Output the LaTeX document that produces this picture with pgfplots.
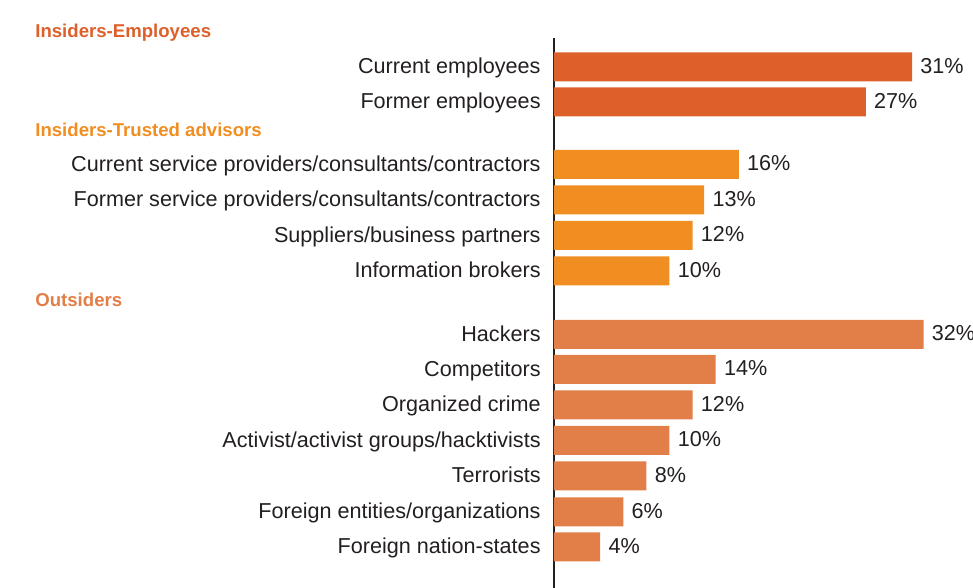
\documentclass[border=0pt]{standalone}
\usepackage{pgfplots}
\pgfplotsset{compat=1.18}
\usepackage{fontspec}
\setmainfont{Liberation Sans}
\definecolor{emp}{RGB}{221,96,42}
\definecolor{trust}{RGB}{241,142,33}
\definecolor{outs}{RGB}{226,126,71}
\definecolor{txt}{RGB}{35,31,32}
\begin{document}
\begin{tikzpicture}[x=1pt,y=1pt]
\useasboundingbox (-277,0) rectangle (209.5,294);
\begin{axis}[
  at={(0,0)}, anchor=south west,
  scale only axis, width=209.5pt, height=275pt,
  xmin=0, xmax=36.28, ymin=-588, ymax=-38,
  axis x line=none, axis y line*=left,
  axis line style={line width=1pt, draw=txt},
  /pgf/number format/assume math mode=true,
  xtick=\empty,
  ytick={-67,-102,-164.5,-200,-235.5,-271,-334.5,-369.5,-405,-440.5,-476,-512,-547},
  yticklabels={Current employees,Former employees,Current service providers/consultants/contractors,Former service providers/consultants/contractors,Suppliers/business partners,Information brokers,Hackers,Competitors,Organized crime,Activist/activist groups/hacktivists,Terrorists,Foreign entities/organizations,Foreign nation-states},
  major tick length=0pt,
  yticklabel style={inner sep=0pt, anchor=base east, xshift=-6.5pt, yshift=-3.4pt, font=\fontsize{10.8}{12}\selectfont, text=txt},
  xbar, bar width=14.5pt, bar shift=0pt,
  point meta=x,
  nodes near coords={\pgfmathprintnumber{\pgfplotspointmeta}\%},
  every node near coord/.append style={font=\fontsize{10.8}{12}\selectfont, text=txt, inner sep=0pt, xshift=4pt, yshift=0.5pt, anchor=west},
  clip=false,
]
\addplot[fill=emp, draw=none] coordinates {(31,-67) (27,-102)};
\addplot[fill=trust, draw=none] coordinates {(16,-164.5) (13,-200) (12,-235.5) (10,-271)};
\addplot[fill=outs, draw=none] coordinates {(32,-334.5) (14,-369.5) (12,-405) (10,-440.5) (8,-476) (6,-512) (4,-547)};
\node[anchor=base west, inner sep=0pt, font=\bfseries\fontsize{9.3}{11}\selectfont, text=emp] at (axis cs:-44.94,-37.7) {Insiders-Employees};
\node[anchor=base west, inner sep=0pt, font=\bfseries\fontsize{9.3}{11}\selectfont, text=trust] at (axis cs:-44.94,-136.5) {Insiders-Trusted advisors};
\node[anchor=base west, inner sep=0pt, font=\bfseries\fontsize{9.3}{11}\selectfont, text=outs] at (axis cs:-44.94,-306.5) {Outsiders};
\end{axis}
\end{tikzpicture}
\end{document}
